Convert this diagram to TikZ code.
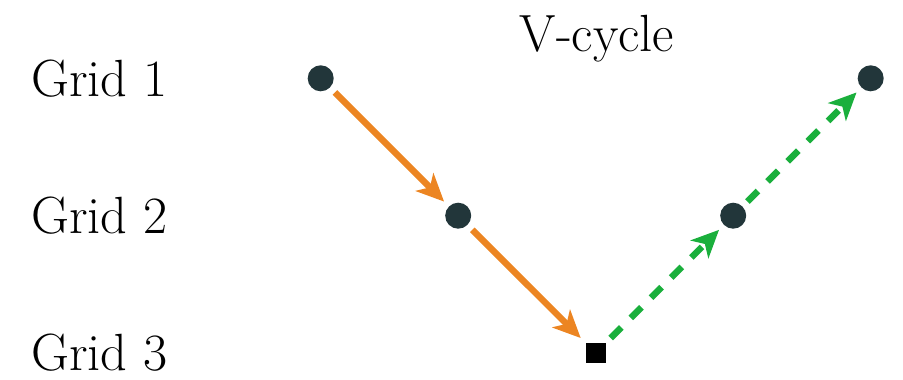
\documentclass[tikz,border=0pt]{standalone}
\usepackage{tikz}
\usetikzlibrary{arrows.meta,positioning}
\definecolor{dotgray}{HTML}{22363A}
\definecolor{downorange}{HTML}{EC8522}
\definecolor{upgreen}{HTML}{1AAF3C}
\begin{document}
\begin{tikzpicture}[
    grid/.style={circle, fill=dotgray, minimum size=0.52cm, inner sep=0pt, outer sep=0.14cm},
    coarse/.style={rectangle, fill=black, minimum size=0.4cm, inner sep=0pt, outer sep=0.1cm},
    lvl/.style={anchor=west, font=\fontsize{29.8}{35}\selectfont},
    down/.style={-{Stealth[length=0.55cm, width=0.5cm, inset=0.15cm]}, line width=0.13cm, downorange},
    up/.style={-{Stealth[length=0.55cm, width=0.5cm, inset=0.15cm]}, line width=0.13cm, upgreen, dash pattern=on 0.3cm off 0.27cm}
]
\useasboundingbox (0,0) rectangle (18.06,7.58);
% Level labels
\node[lvl] (g1) at (0.5,6.014) {Grid 1};
\node[lvl] (g2) at (0.5,3.266) {Grid 2};
\node[lvl] (g3) at (0.5,0.52) {Grid 3};
\node[font=\fontsize{29.8}{35}\selectfont] (title) at (11.94,6.8) {V-cycle};

% Grid points
\node[grid] (a1) at (6.414,6.014) {};
\node[grid] (a2) at (9.164,3.266) {};
\node[coarse] (a3) at (11.914,0.52) {};
\node[grid] (a4) at (14.664,3.266) {};
\node[grid] (a5) at (17.414,6.014) {};

% Restriction and prolongation
\draw[down] (a1) -- (a2);
\draw[down] (a2) -- (a3);
\draw[up] (a3) -- (a4);
\draw[up] (a4) -- (a5);
\end{tikzpicture}
\end{document}
